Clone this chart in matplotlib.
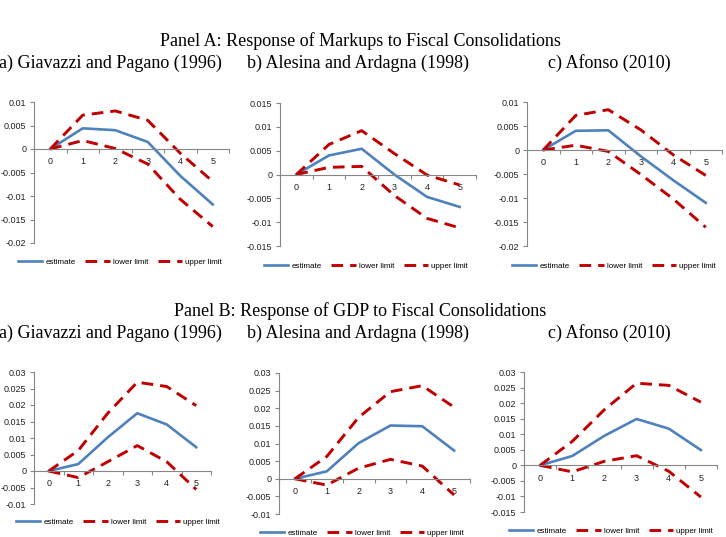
import numpy as np
import matplotlib
matplotlib.use("Agg")
import matplotlib.pyplot as plt
from matplotlib.ticker import FuncFormatter, MultipleLocator

W, H = 726, 537

horizon = [0, 1, 2, 3, 4, 5]

# Panel A: markups
a_gp_est = [0, 0.0044, 0.0040, 0.0015, -0.0057, -0.0118]
a_gp_up = [0, 0.0072, 0.0081, 0.0061, -0.0009, -0.0069]
a_gp_lo = [0, 0.0018, 0.0001, -0.0032, -0.0107, -0.0165]

a_aa_est = [0, 0.0040, 0.0054, 0.0000, -0.0047, -0.0068]
a_aa_up = [0, 0.0063, 0.0092, 0.0044, -0.0001, -0.0022]
a_aa_lo = [0, 0.0015, 0.0017, -0.0044, -0.0092, -0.0112]

a_af_est = [0, 0.0040, 0.0041, -0.0013, -0.0063, -0.0110]
a_af_up = [0, 0.0072, 0.0084, 0.0042, -0.0010, -0.0053]
a_af_lo = [0, 0.0010, -0.0003, -0.0051, -0.0102, -0.0161]

# Panel B: GDP
b_gp_est = [0, 0.0021, 0.0102, 0.0175, 0.0141, 0.0072]
b_gp_up = [0, 0.0062, 0.0175, 0.0269, 0.0256, 0.0198]
b_gp_lo = [0, -0.0020, 0.0028, 0.0077, 0.0028, -0.0056]

b_aa_est = [0, 0.0021, 0.0101, 0.0151, 0.0149, 0.0080]
b_aa_up = [0, 0.0063, 0.0174, 0.0247, 0.0264, 0.0203]
b_aa_lo = [0, -0.0018, 0.0030, 0.0055, 0.0036, -0.0046]

b_af_est = [0, 0.0030, 0.0095, 0.0149, 0.0118, 0.0049]
b_af_up = [0, 0.0077, 0.0179, 0.0264, 0.0257, 0.0203]
b_af_lo = [0, -0.0021, 0.0013, 0.0031, -0.0019, -0.0102]

panel_titles = ["Panel A: Response of Markups to Fiscal Consolidations",
                "Panel B: Response of GDP to Fiscal Consolidations"]
col_titles = ["a) Giavazzi and Pagano (1996)", "b) Alesina and Ardagna (1998)",
              "c) Afonso (2010)"]

BLUE = "#4F81BD"
RED = "#C00000"
GRAY = "#868686"

fig = plt.figure(figsize=(W / 100, H / 100), dpi=100)


def px_axes(left, right, top, bottom):
    return fig.add_axes([left / W, 1 - bottom / H, (right - left) / W, (bottom - top) / H])


def fmt(v, pos):
    v = round(v, 6)
    if v == 0:
        return "0"
    return f"{v:g}"


def draw(box, est, lo, up, ylim, leg_xy):
    ax = px_axes(*box)
    ax.plot(horizon, est, color=BLUE, lw=1.9, label="estimate")
    ax.plot(horizon, lo, color=RED, lw=2.1, dashes=(4, 2.4), label="lower limit")
    ax.plot(horizon, up, color=RED, lw=2.1, dashes=(4, 2.4), label="upper limit")
    ax.set_xlim(-0.5, 5.5)
    ax.set_ylim(*ylim)
    ax.yaxis.set_major_locator(MultipleLocator(0.005))
    ax.yaxis.set_major_formatter(FuncFormatter(fmt))
    ax.set_xticks(horizon)
    ax.set_xticks(np.arange(-0.5, 6, 1), minor=True)
    ax.tick_params(axis="x", which="major", length=0, labelsize=6.5, pad=6, colors="#222222")
    ax.tick_params(axis="x", which="minor", length=3, color=GRAY, width=0.8)
    ax.tick_params(axis="y", length=3, color=GRAY, width=0.8, labelsize=6.5, pad=2.5,
                   labelcolor="#222222")
    for s in ["top", "right"]:
        ax.spines[s].set_visible(False)
    ax.spines["bottom"].set_position(("data", 0))
    ax.spines["bottom"].set_color(GRAY)
    ax.spines["left"].set_color(GRAY)
    ax.spines["left"].set_bounds(*ylim)
    ax.patch.set_alpha(0)
    for lab in ax.get_xticklabels() + ax.get_yticklabels():
        lab.set_fontfamily("Liberation Sans")
    fig.legend(*ax.get_legend_handles_labels(), loc="center", ncol=3, frameon=False,
               bbox_to_anchor=(leg_xy[0] / W, 1 - leg_xy[1] / H),
               prop={"family": "Liberation Sans", "size": 5.8},
               handlelength=3.0, columnspacing=1.2, handletextpad=0.4,
               borderpad=0.1, borderaxespad=0)
    return ax


draw((34, 229, 102, 243), a_gp_est, a_gp_lo, a_gp_up, (-0.02, 0.01), (120, 262))
draw((280, 476, 103, 246), a_aa_est, a_aa_lo, a_aa_up, (-0.015, 0.015), (366, 266))
draw((527, 722, 102, 246), a_af_est, a_af_lo, a_af_up, (-0.02, 0.01), (614, 266))

draw((34, 211, 372, 504), b_gp_est, b_gp_lo, b_gp_up, (-0.01, 0.03), (118, 522))
draw((279, 470, 373, 514), b_aa_est, b_aa_lo, b_aa_up, (-0.01, 0.03), (362, 533))
draw((524, 717, 372, 512), b_af_est, b_af_lo, b_af_up, (-0.015, 0.03), (611, 531))

serif = {"family": "Liberation Serif", "size": 13}
for k, ty in enumerate([41, 311]):
    fig.text(360 / W, 1 - ty / H, panel_titles[k], ha="center", va="center", **serif)
    for x, t in zip([-1, 247, 548], col_titles):
        fig.text(x / W, 1 - (ty + 22) / H, t, ha="left", va="center", **serif)

fig.savefig("out.png", dpi=100)
